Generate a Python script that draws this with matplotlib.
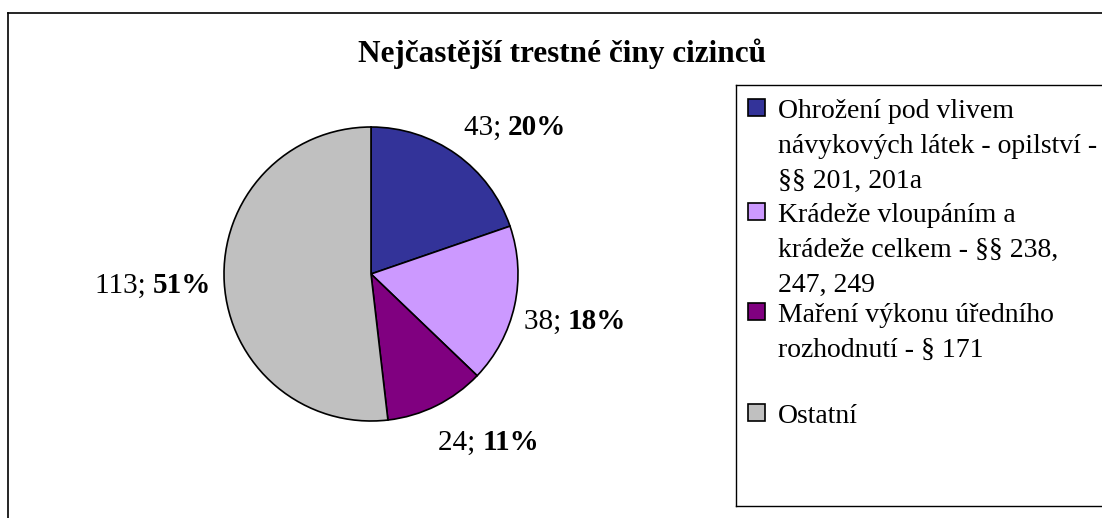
import matplotlib
matplotlib.use("Agg")
import matplotlib.pyplot as plt
from matplotlib.patches import Rectangle
from matplotlib.lines import Line2D

W, H = 1102, 518

title = "Nejčastější trestné činy cizinců"
categories = [
    "Ohrožení pod vlivem\nnávykových látek - opilství -\n§§ 201, 201a",
    "Krádeže vloupáním a\nkrádeže celkem - §§ 238,\n247, 249",
    "Maření výkonu úředního\nrozhodnutí - § 171",
    "Ostatní",
]
values = [43, 38, 24, 113]
pct_labels = ["20%", "18%", "11%", "51%"]
colors = ["#333399", "#CC99FF", "#800080", "#C0C0C0"]

FONT = "Liberation Serif"
plt.rcParams["font.family"] = [FONT, "DejaVu Serif"]

fig = plt.figure(figsize=(W / 100, H / 100), dpi=100)
ax = fig.add_axes([0, 0, 1, 1])
ax.set_xlim(0, W)
ax.set_ylim(0, H)
ax.set_aspect("equal")
ax.axis("off")

def Y(y):
    return H - y

# outer border (chart area)
ax.add_line(Line2D([8, W], [Y(13), Y(13)], color="black", lw=1.2))
ax.add_line(Line2D([8, 8], [Y(13), 0], color="black", lw=1.2))

# title
ax.text(562, Y(62), title, fontsize=22.5, fontweight="bold", ha="center",
        va="baseline")

# pie
wedges, _ = ax.pie(values, colors=colors, startangle=90, counterclock=False,
                   center=(371, Y(274)), radius=147,
                   wedgeprops=dict(edgecolor="black", linewidth=1.2))
ax.set_xlim(0, W)
ax.set_ylim(0, H)

# data labels (value normal, percent bold), centred on given x
label_pos = [(515, 135), (575, 329), (489, 450), (153, 293)]
fig.canvas.draw()
renderer = fig.canvas.get_renderer()
inv = ax.transData.inverted()
for (xc, y), v, p in zip(label_pos, values, pct_labels):
    t1 = ax.text(0, Y(y), f"{v}; ", fontsize=21, ha="left", va="baseline")
    t2 = ax.text(0, Y(y), p, fontsize=21, fontweight="bold", ha="left",
                 va="baseline")
    b1 = t1.get_window_extent(renderer=renderer)
    b2 = t2.get_window_extent(renderer=renderer)
    w1 = inv.transform((b1.x1, 0))[0] - inv.transform((b1.x0, 0))[0]
    w2 = inv.transform((b2.x1, 0))[0] - inv.transform((b2.x0, 0))[0]
    x0 = xc - (w1 + w2) / 2
    t1.set_x(x0)
    t2.set_x(x0 + w1)

# legend box
ax.add_line(Line2D([736, W], [Y(85), Y(85)], color="black", lw=1.0))
ax.add_line(Line2D([736, 736], [Y(85), Y(506)], color="black", lw=1.0))
ax.add_line(Line2D([736, W], [Y(506), Y(506)], color="black", lw=1.0))

entry_baselines = [118, 222, 322, 423]
for base, lab, c in zip(entry_baselines, categories, colors):
    ax.add_patch(Rectangle((748, Y(base - 2)), 17, 17, facecolor=c,
                           edgecolor="black", lw=1.2))
    for i, line in enumerate(lab.split("\n")):
        ax.text(778, Y(base + 35 * i), line, fontsize=20, ha="left",
                va="baseline")

fig.savefig("out.png", dpi=100)
